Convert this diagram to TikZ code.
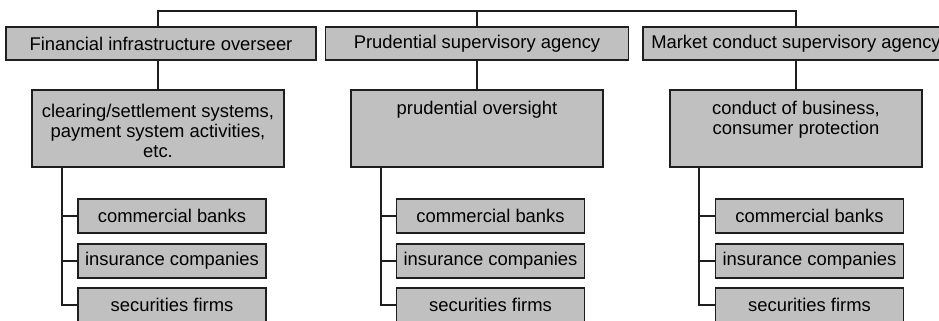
\documentclass[tikz,border=0pt]{standalone}
\usepackage{fontspec}
\setmainfont{Liberation Sans}
\definecolor{boxgray}{RGB}{192,192,192}
\definecolor{linegray}{RGB}{30,30,30}
\begin{document}
\begin{tikzpicture}[x=0.75pt,y=-0.75pt,line width=1.2pt,draw=linegray,
  every node/.style={font=\fontsize{13.8}{15}\selectfont},
  agency/.style={draw=linegray,fill=boxgray,inner sep=0pt,minimum height=25.1pt},
  remit/.style={draw=linegray,fill=boxgray,inner sep=0pt,align=center,minimum width=189pt,minimum height=57.75pt},
  firm/.style={draw=linegray,fill=boxgray,inner sep=0pt,minimum width=141pt,minimum height=25.5pt}]
\useasboundingbox (0,0) rectangle (939,321);
\node[agency,minimum width=232.5pt] (fio) at (161,43.5) {Financial infrastructure overseer};
\node[agency,minimum width=227.25pt] (psa) at (477,43.5) {Prudential supervisory agency};
\node[agency,minimum width=229.5pt] (mca) at (796,43.5) {Market conduct supervisory agency};
\node[remit] (fior) at (158,128.5) {\rule{0pt}{14pt}clearing/settlement systems,\\payment system activities,\\etc.};
\node[remit] (psar) at (477,128.5) {\rule{0pt}{14pt}prudential oversight\\\strut\\\strut};
\node[remit] (mcar) at (796,128.5) {\rule{0pt}{14pt}conduct of business,\\consumer protection\\\strut};
\node[firm] (fiob) at (172,216) {commercial banks};
\node[firm] (fioi) at (172,261) {insurance companies};
\node[firm] (fios) at (172,305) {securities firms};
\node[firm] (psab) at (490.5,216) {commercial banks};
\node[firm] (psai) at (490.5,261) {insurance companies};
\node[firm] (psas) at (490.5,305) {securities firms};
\node[firm] (mcab) at (809.5,216) {commercial banks};
\node[firm] (mcai) at (809.5,261) {insurance companies};
\node[firm] (mcas) at (809.5,305) {securities firms};
\coordinate (bus) at (477,11);
\draw (fio.north -| fior.north) |- (bus) -| (mca.north);
\draw (bus) -- (psa.north);
\draw (fio.south -| fior.north) -- (fior.north);
\draw (psa.south) -- (psar.north);
\draw (mca.south) -- (mcar.north);
\draw ([xshift=23.25pt]fior.south west) |- (fiob.west);
\draw ([xshift=23.25pt]fior.south west) |- (fioi.west);
\draw ([xshift=23.25pt]fior.south west) |- (fios.west);
\draw ([xshift=23.25pt]psar.south west) |- (psab.west);
\draw ([xshift=23.25pt]psar.south west) |- (psai.west);
\draw ([xshift=23.25pt]psar.south west) |- (psas.west);
\draw ([xshift=22.5pt]mcar.south west) |- (mcab.west);
\draw ([xshift=22.5pt]mcar.south west) |- (mcai.west);
\draw ([xshift=22.5pt]mcar.south west) |- (mcas.west);
\end{tikzpicture}
\end{document}
